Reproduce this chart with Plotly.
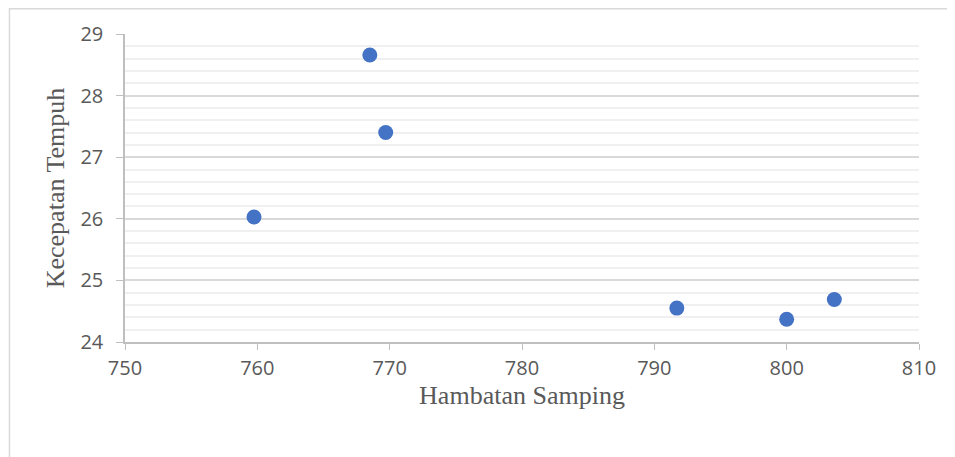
import plotly.graph_objects as go

# Hambatan Samping (x) vs Kecepatan Tempuh (y)
hambatan_samping = [759.75, 768.5, 769.7, 791.7, 800.0, 803.6]
kecepatan_tempuh = [26.03, 28.66, 27.40, 24.55, 24.37, 24.69]

x_ticks = [750, 760, 770, 780, 790, 800, 810]
y_ticks = [24, 25, 26, 27, 28, 29]

title_font = dict(family="Liberation Serif, Times New Roman, serif", size=26, color="#595959")

fig = go.Figure()
fig.add_trace(go.Scatter(
    x=hambatan_samping,
    y=kecepatan_tempuh,
    mode="markers",
    marker=dict(size=15, color="#4472C4"),
    showlegend=False,
))

fig.update_layout(
    width=947,
    height=449,
    margin=dict(l=116.5, r=36, t=26, b=115),
    paper_bgcolor="white",
    plot_bgcolor="white",
    font=dict(family="Open Sans, sans-serif", color="#595959", size=20),
    xaxis=dict(
        range=[750, 810],
        tickvals=x_ticks,
        showgrid=False,
        zeroline=False,
        showline=True,
        linecolor="#BFBFBF",
        linewidth=1.5,
        ticks="outside",
        ticklen=6,
        tickcolor="#BFBFBF",
        ticklabelstandoff=1,
        title=dict(text="Hambatan Samping", font=title_font, standoff=4),
    ),
    yaxis=dict(
        range=[24, 29],
        tickvals=y_ticks,
        showgrid=True,
        gridcolor="#D9D9D9",
        gridwidth=1.5,
        zeroline=False,
        showline=True,
        linecolor="#BFBFBF",
        linewidth=1.5,
        ticks="outside",
        ticklen=7,
        tickcolor="#BFBFBF",
        ticklabelstandoff=9,
        minor=dict(dtick=0.2, showgrid=True, gridcolor="#F0F0F0", gridwidth=1.5),
        title=dict(text="Kecepatan Tempuh", font=title_font, standoff=8),
    ),
    # light frame around the chart area
    shapes=[dict(
        type="rect", xref="paper", yref="paper",
        x0=-0.1455, x1=1.2, y0=-0.6, y1=1.082,
        line=dict(color="#D9D9D9", width=1.5),
        layer="below",
    )],
)

fig.write_html("out.html")
